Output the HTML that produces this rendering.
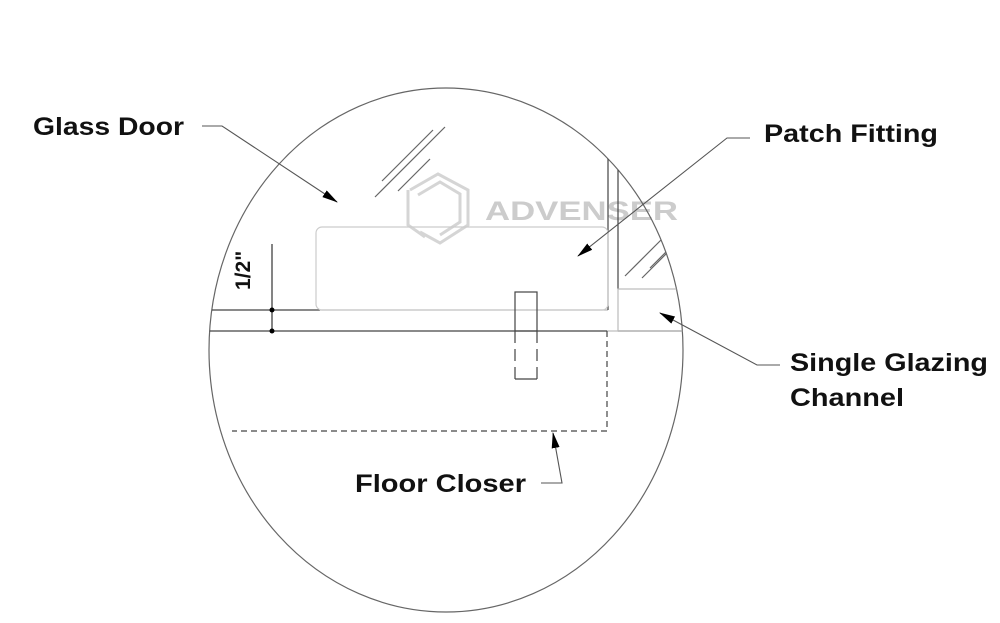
<!DOCTYPE html>
<html><head><style>
html,body{margin:0;padding:0;background:#fff;}
svg{display:block;}
text{font-family:"Liberation Sans",Arial,sans-serif;font-weight:bold;fill:#111;}
</style></head><body>
<svg width="1000" height="623" viewBox="0 0 1000 623" xmlns="http://www.w3.org/2000/svg">
<defs>
<clipPath id="c"><ellipse cx="446" cy="350" rx="237" ry="262"/></clipPath>
<marker id="ah" markerWidth="16" markerHeight="8" refX="15" refY="4" orient="auto" markerUnits="userSpaceOnUse">
<path d="M0,0 L16,4 L0,8 Z" fill="#000"/></marker>
</defs>
<g opacity="0.35" fill="none" stroke="#888" stroke-width="3">
<path d="M410,190 L438,174 L468,190 L468,225 L440,243 L420,232"/>
<path d="M418,195 L440,182 L460,194 L460,222 L440,235"/>
<path d="M408,190 L408,225 L425,237"/>
</g>
<text x="485" y="220" font-size="27" textLength="193" lengthAdjust="spacingAndGlyphs" style="fill:#ccc">ADVENSER</text>
<ellipse cx="446" cy="350" rx="237" ry="262" fill="none" stroke="#666" stroke-width="1.2"/>
<g clip-path="url(#c)" fill="none" stroke="#444" stroke-width="1.2">
<line x1="180" y1="310" x2="320" y2="310"/>
<line x1="320" y1="310" x2="608" y2="310" stroke="#bbb"/>
<line x1="180" y1="331" x2="607" y2="331"/>
<line x1="607" y1="331" x2="618" y2="331" stroke="#bbb"/>
<line x1="618" y1="331" x2="700" y2="331"/>
<line x1="608" y1="150" x2="608" y2="310"/>
<line x1="618" y1="170" x2="618" y2="289"/>
<rect x="618" y="289" width="80" height="42" stroke="#bbb"/>
<line x1="642" y1="278" x2="675" y2="245" stroke="#666"/>
<line x1="625" y1="276" x2="665" y2="236" stroke="#666"/>
<line x1="650" y1="268" x2="670" y2="248" stroke="#666"/>
<line x1="382" y1="181" x2="433" y2="130" stroke="#666"/>
<line x1="375" y1="197" x2="445" y2="127" stroke="#666"/>
<line x1="398" y1="191" x2="430" y2="159" stroke="#666"/>
<rect x="316" y="227" width="292" height="83" rx="6" stroke="#ccc"/>
<rect x="515" y="292" width="22" height="39"/>
<line x1="515" y1="331" x2="515" y2="379" stroke-dasharray="12,6"/>
<line x1="537" y1="331" x2="537" y2="379" stroke-dasharray="12,6"/>
<line x1="515" y1="379" x2="537" y2="379"/>
<path d="M607,331 V431 H232" stroke-dasharray="6,4"/>
</g>
<line x1="272" y1="244" x2="272" y2="331" stroke="#333" stroke-width="1.2"/>
<circle cx="272" cy="310" r="2.5" fill="#000"/>
<circle cx="272" cy="331" r="2.5" fill="#000"/>
<text transform="translate(250,290) rotate(-90)" font-size="21">1/2"</text>
<text x="33" y="135" font-size="25" textLength="151" lengthAdjust="spacingAndGlyphs">Glass Door</text>
<text x="764" y="142" font-size="25" textLength="174" lengthAdjust="spacingAndGlyphs">Patch Fitting</text>
<text x="790" y="371" font-size="25" textLength="198" lengthAdjust="spacingAndGlyphs">Single Glazing</text>
<text x="790" y="406" font-size="25" textLength="114" lengthAdjust="spacingAndGlyphs">Channel</text>
<text x="355" y="492" font-size="25" textLength="171" lengthAdjust="spacingAndGlyphs">Floor Closer</text>
<g fill="none" stroke="#555" stroke-width="1.1">
<polyline points="202,126 222,126 337,202" marker-end="url(#ah)"/>
<polyline points="750,138 727,138 578,256" marker-end="url(#ah)"/>
<polyline points="780,365 757,365 660,313" marker-end="url(#ah)"/>
<polyline points="541,483 562,483 553,433" marker-end="url(#ah)"/>
</g>
</svg>
</body></html>
